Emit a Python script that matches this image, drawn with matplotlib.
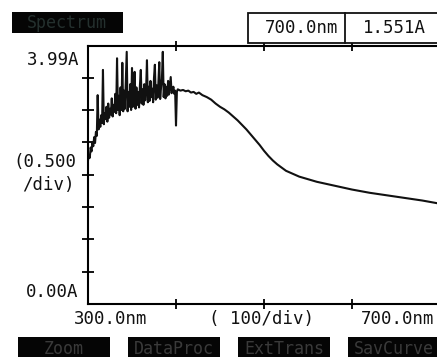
import matplotlib
import matplotlib.pyplot as plt
from matplotlib.patches import Rectangle

matplotlib.use("Agg")

# absorbance scan, 1 nm steps through the noisy UV part
noisy_start = 300
noisy_abs = [
    2.22, 2.30, 2.26, 2.42, 2.36, 2.50, 2.44, 2.58, 2.49, 2.66,
    2.60, 3.23, 2.70, 2.85, 2.74, 2.92, 2.80, 3.62, 2.78, 2.95,
    2.86, 3.05, 2.82, 3.10, 2.88, 3.02, 2.93, 3.18, 2.90, 3.08,
    2.97, 3.25, 2.95, 3.80, 3.00, 3.22, 2.92, 3.35, 3.00, 3.73,
    2.98, 3.30, 3.02, 3.45, 3.90, 2.98, 3.28, 3.05, 3.40, 3.00,
    3.65, 3.05, 3.30, 3.59, 3.02, 3.35, 3.08, 3.28, 3.04, 3.38,
    3.62, 3.10, 3.32, 3.08, 3.40, 3.15, 3.30, 3.77, 3.12, 3.36,
    3.14, 3.45, 3.20, 3.33, 3.12, 3.50, 3.70, 3.16, 3.38, 3.19,
    3.42, 3.74, 3.17, 3.35, 3.48, 3.90, 3.20, 3.40, 3.18, 3.36,
    3.22, 3.45, 3.24, 3.38, 3.51, 3.26, 3.29, 3.36, 3.25, 3.30,
]

# visible part, coarser steps
tail_nm = [400, 401, 402, 405, 408, 411, 414, 417, 420, 423, 426, 430,
           435, 440, 445, 450, 455, 460, 465, 470, 475, 480, 485, 490,
           495, 500, 505, 510, 515, 520, 525, 530, 540, 550, 560, 570,
           580, 590, 600, 610, 620, 630, 640, 650, 660, 670, 680, 690, 700]
tail_abs = [2.76, 3.28, 3.32, 3.30, 3.31, 3.29, 3.30, 3.27, 3.28, 3.25,
            3.27, 3.23, 3.20, 3.16, 3.10, 3.05, 3.01, 2.96, 2.90, 2.84,
            2.77, 2.70, 2.62, 2.54, 2.46, 2.37, 2.29, 2.22, 2.16, 2.11,
            2.06, 2.03, 1.97, 1.93, 1.89, 1.86, 1.83, 1.80, 1.77, 1.745,
            1.72, 1.70, 1.68, 1.66, 1.64, 1.62, 1.60, 1.575, 1.551]

wavelength = [noisy_start + i for i in range(len(noisy_abs))] + tail_nm
absorbance = noisy_abs + tail_abs

cursor_nm = "700.0nm"
cursor_abs = "1.551A"
buttons = ["Zoom", "DataProc", "ExtTrans", "SavCurve"]

W, H = 437, 357
MONO = "DejaVu Sans Mono"


def px(x, y):
    return x / W, 1 - y / H


fig = plt.figure(figsize=(W / 100, H / 100), dpi=100)
fig.patch.set_facecolor("white")

ax = fig.add_axes([88 / W, (H - 304) / H, (440 - 88) / W, (304 - 46) / H])
ax.plot(wavelength, absorbance, color="#111111", linewidth=1.5)
ax.set_xlim(300, 700)
ax.set_ylim(0, 3.99)
ax.set_xticks([400, 500, 600])
ax.set_yticks([0.5, 1.0, 1.5, 2.0, 2.5, 3.0, 3.5])
ax.tick_params(axis="x", direction="inout", length=7, width=1.3,
               top=True, bottom=True, labelbottom=False)
ax.tick_params(axis="y", direction="inout", length=9, width=1.3,
               left=True, labelleft=False)
for side in ("left", "top", "bottom"):
    ax.spines[side].set_linewidth(1.5)
ax.spines["right"].set_visible(False)

# axis annotations
txt = dict(family=MONO, fontsize=12.5, color="#111111", va="center")
fig.text(*px(79, 60), "3.99A", ha="right", **txt)
fig.text(*px(13, 162), "(0.500", ha="left", **txt)
fig.text(*px(22, 185), "/div)", ha="left", **txt)
fig.text(*px(78, 292), "0.00A", ha="right", **txt)
fig.text(*px(74, 319), "300.0nm", ha="left", **txt)
fig.text(*px(209, 319), "( 100/div)", ha="left", **txt)
fig.text(*px(361, 319), "700.0nm", ha="left", **txt)

# title block
fig.patches.append(Rectangle(px(12, 33), 111 / W, 21 / H, transform=fig.transFigure,
                             facecolor="#050505", edgecolor="none"))
fig.text(*px(67, 23), "Spectrum", ha="center", va="center", family=MONO,
         fontsize=12, color="#24302e")

# cursor readout
fig.patches.append(Rectangle(px(248, 43), 195 / W, 30 / H, transform=fig.transFigure,
                             facecolor="white", edgecolor="#111111", linewidth=1.3))
fig.lines.append(plt.Line2D([345 / W, 345 / W], [1 - 43 / H, 1 - 13 / H],
                            transform=fig.transFigure, color="#111111", linewidth=1.3))
fig.text(*px(265, 28), cursor_nm, ha="left", **txt)
fig.text(*px(363, 28), cursor_abs, ha="left", **txt)

# soft-key row
for i, label in enumerate(buttons):
    x0 = 18 + i * 110
    fig.patches.append(Rectangle(px(x0, 360), 92 / W, 23 / H, transform=fig.transFigure,
                                 facecolor="#050505", edgecolor="none"))
    fig.text(*px(x0 + 46, 349), label, ha="center", va="center", family=MONO,
             fontsize=12, color="#3a3a3a")

fig.savefig("out.png", dpi=100)
